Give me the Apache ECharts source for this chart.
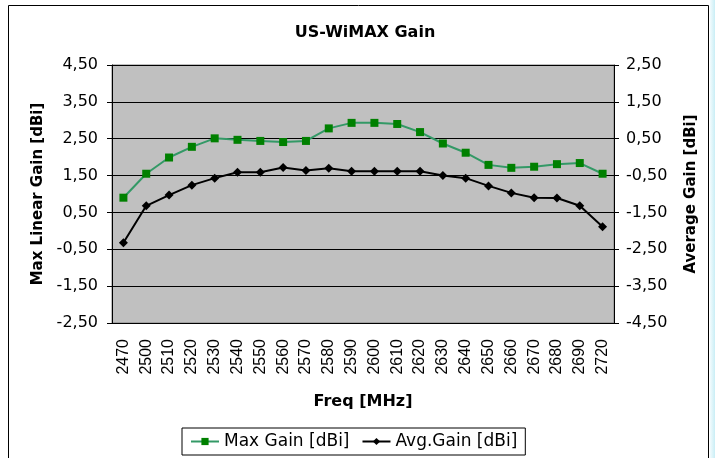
<!DOCTYPE html>
<html>
<head>
<meta charset="utf-8">
<title>US-WiMAX Gain</title>
<script src="https://cdn.jsdelivr.net/npm/echarts@6/dist/echarts.min.js"></script>
<style>
  html, body { margin: 0; padding: 0; background: #fff; }
  #chart { width: 715px; height: 458px; }
</style>
</head>
<body>
<div id="chart"></div>
<script>
// frequencies (MHz)
var freqList = ["2470", "2500", "2510", "2520", "2530", "2540", "2550", "2560", "2570", "2580", "2590",
  "2600", "2610", "2620", "2630", "2640", "2650", "2660", "2670", "2680", "2690", "2720"];
// max linear gain, left axis
var maxGain = [0.90, 1.55, 1.99, 2.28, 2.51, 2.47, 2.44, 2.41, 2.44, 2.78, 2.93,
  2.93, 2.90, 2.68, 2.37, 2.12, 1.79, 1.71, 1.74, 1.81, 1.84, 1.55];
// average gain, right axis
var avgGain = [-2.32, -1.32, -1.03, -0.76, -0.57, -0.41, -0.41, -0.28, -0.36, -0.30, -0.38,
  -0.38, -0.38, -0.38, -0.50, -0.57, -0.78, -0.97, -1.10, -1.11, -1.32, -1.89];

var myChart = echarts.init(document.getElementById("chart"));

function fmt(v) {
  return v.toFixed(2).replace(".", ",");
}

var labelFont = { color: "#000", fontFamily: "DejaVu Sans", fontSize: 16 };
var nameFont = { color: "#000", fontFamily: "DejaVu Sans", fontSize: 15, fontWeight: "bold" };

var option = {
  backgroundColor: "#fff",
  animation: false,
  title: {
    text: "US-WiMAX Gain",
    left: 360,
    textAlign: "center",
    top: 20,
    textStyle: { color: "#000", fontFamily: "DejaVu Sans", fontSize: 16, fontWeight: "bold" }
  },
  graphic: [
    // outer frame
    { type: "rect", shape: { x: 8.5, y: 5.5, width: 700, height: 470 }, style: { fill: null, stroke: "#000", lineWidth: 1 }, z: -1 },
    // light strip on the right edge
    {
      type: "rect", shape: { x: 710, y: 0, width: 5, height: 458 },
      style: {
        fill: new echarts.graphic.LinearGradient(0, 0, 1, 0, [
          { offset: 0, color: "#f2fbfd" }, { offset: 1, color: "#c9eef6" }
        ])
      }
    }
  ],
  legend: {
    left: 182,
    top: 428,
    padding: [5, 8, 5, 8],
    borderColor: "#000",
    borderWidth: 1,
    itemGap: 12,
    itemWidth: 28,
    itemHeight: 9,
    textStyle: { color: "#000", fontFamily: "DejaVu Sans", fontSize: 17 },
    data: ["Max Gain [dBi]", "Avg.Gain [dBi]"]
  },
  grid: {
    left: 112,
    right: 101,
    top: 65,
    bottom: 135,
    show: true,
    backgroundColor: "#c0c0c0",
    borderColor: "#808080",
    borderWidth: 1
  },
  xAxis: {
    type: "category",
    data: freqList,
    boundaryGap: true,
    name: "Freq [MHz]",
    nameLocation: "middle",
    nameGap: 71,
    nameTextStyle: { color: "#000", fontFamily: "DejaVu Sans", fontSize: 16, fontWeight: "bold" },
    axisLine: { onZero: false, lineStyle: { color: "#000", width: 1 } },
    axisTick: { alignWithLabel: false, length: 6, lineStyle: { color: "#000" } },
    axisLabel: { rotate: 90, interval: 0, margin: 16, color: "#000", fontFamily: "Liberation Sans", fontSize: 16 }
  },
  yAxis: [
    {
      type: "value",
      min: -2.5,
      max: 4.5,
      interval: 1,
      position: "left",
      name: "Max Linear Gain [dBi]",
      nameLocation: "middle",
      nameRotate: 90,
      nameGap: 62,
      nameTextStyle: nameFont,
      axisLine: { show: true, lineStyle: { color: "#000" } },
      axisTick: { show: true, length: 5, lineStyle: { color: "#000" } },
      axisLabel: Object.assign({ margin: 14, formatter: fmt }, labelFont),
      splitLine: { show: true, lineStyle: { color: "#000", width: 1 } }
    },
    {
      type: "value",
      min: -4.5,
      max: 2.5,
      interval: 1,
      position: "right",
      name: "Average Gain [dBi]",
      nameLocation: "middle",
      nameRotate: 90,
      nameGap: 70,
      nameTextStyle: nameFont,
      axisLine: { show: true, lineStyle: { color: "#000" } },
      axisTick: { show: true, length: 5, lineStyle: { color: "#000" } },
      axisLabel: Object.assign({ margin: 12, formatter: fmt }, labelFont),
      splitLine: { show: false }
    }
  ],
  series: [
    {
      name: "Max Gain [dBi]",
      type: "line",
      yAxisIndex: 0,
      data: maxGain,
      symbol: "rect",
      symbolSize: 8,
      itemStyle: { color: "#008000" },
      lineStyle: { color: "#339966", width: 2 }
    },
    {
      name: "Avg.Gain [dBi]",
      type: "line",
      yAxisIndex: 1,
      data: avgGain,
      symbol: "diamond",
      symbolSize: 9,
      itemStyle: { color: "#000" },
      lineStyle: { color: "#000", width: 2 }
    }
  ]
};

myChart.setOption(option);
</script>
</body>
</html>
